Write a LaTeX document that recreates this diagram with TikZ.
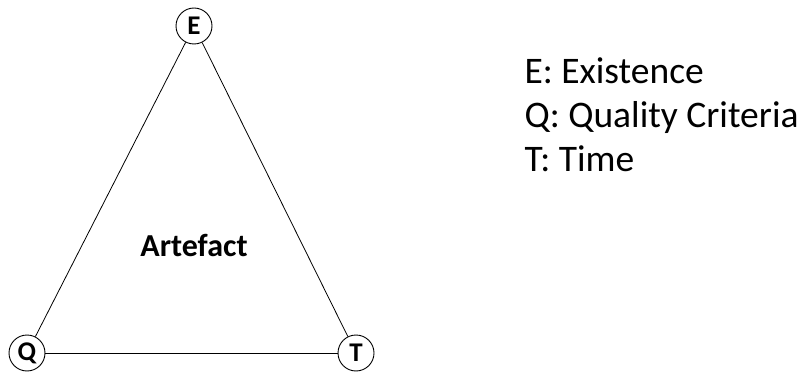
\documentclass[tikz,border=0pt]{standalone}
\usepackage{fontspec}
\setmainfont{Carlito}
\begin{document}
\begin{tikzpicture}[x=1pt,y=-1pt,
  vert/.style={circle,draw,line width=0.9pt,minimum size=36pt,inner sep=0pt,font=\fontsize{27}{27}\selectfont\bfseries},
  edge/.style={line width=0.8pt},
  legend/.style={anchor=base west,font=\fontsize{37.5}{37.5}\selectfont}]
\useasboundingbox (0,0) rectangle (803,374);
\node[vert] (E) at (194,26) {E};
\node[vert] (Q) at (27,353) {Q};
\node[vert] (T) at (356,353) {T};
\draw[edge] (E) -- (Q);
\draw[edge] (E) -- (T);
\draw[edge] (Q) -- (T);
\node[font=\fontsize{32}{32}\selectfont\bfseries] (A) at (194,245) {Artefact};
\node[legend] (l1) at (521,84) {E: Existence};
\node[legend] (l2) at (521,128) {Q: Quality Criteria};
\node[legend] (l3) at (521,172) {T: Time};
\end{tikzpicture}
\end{document}
